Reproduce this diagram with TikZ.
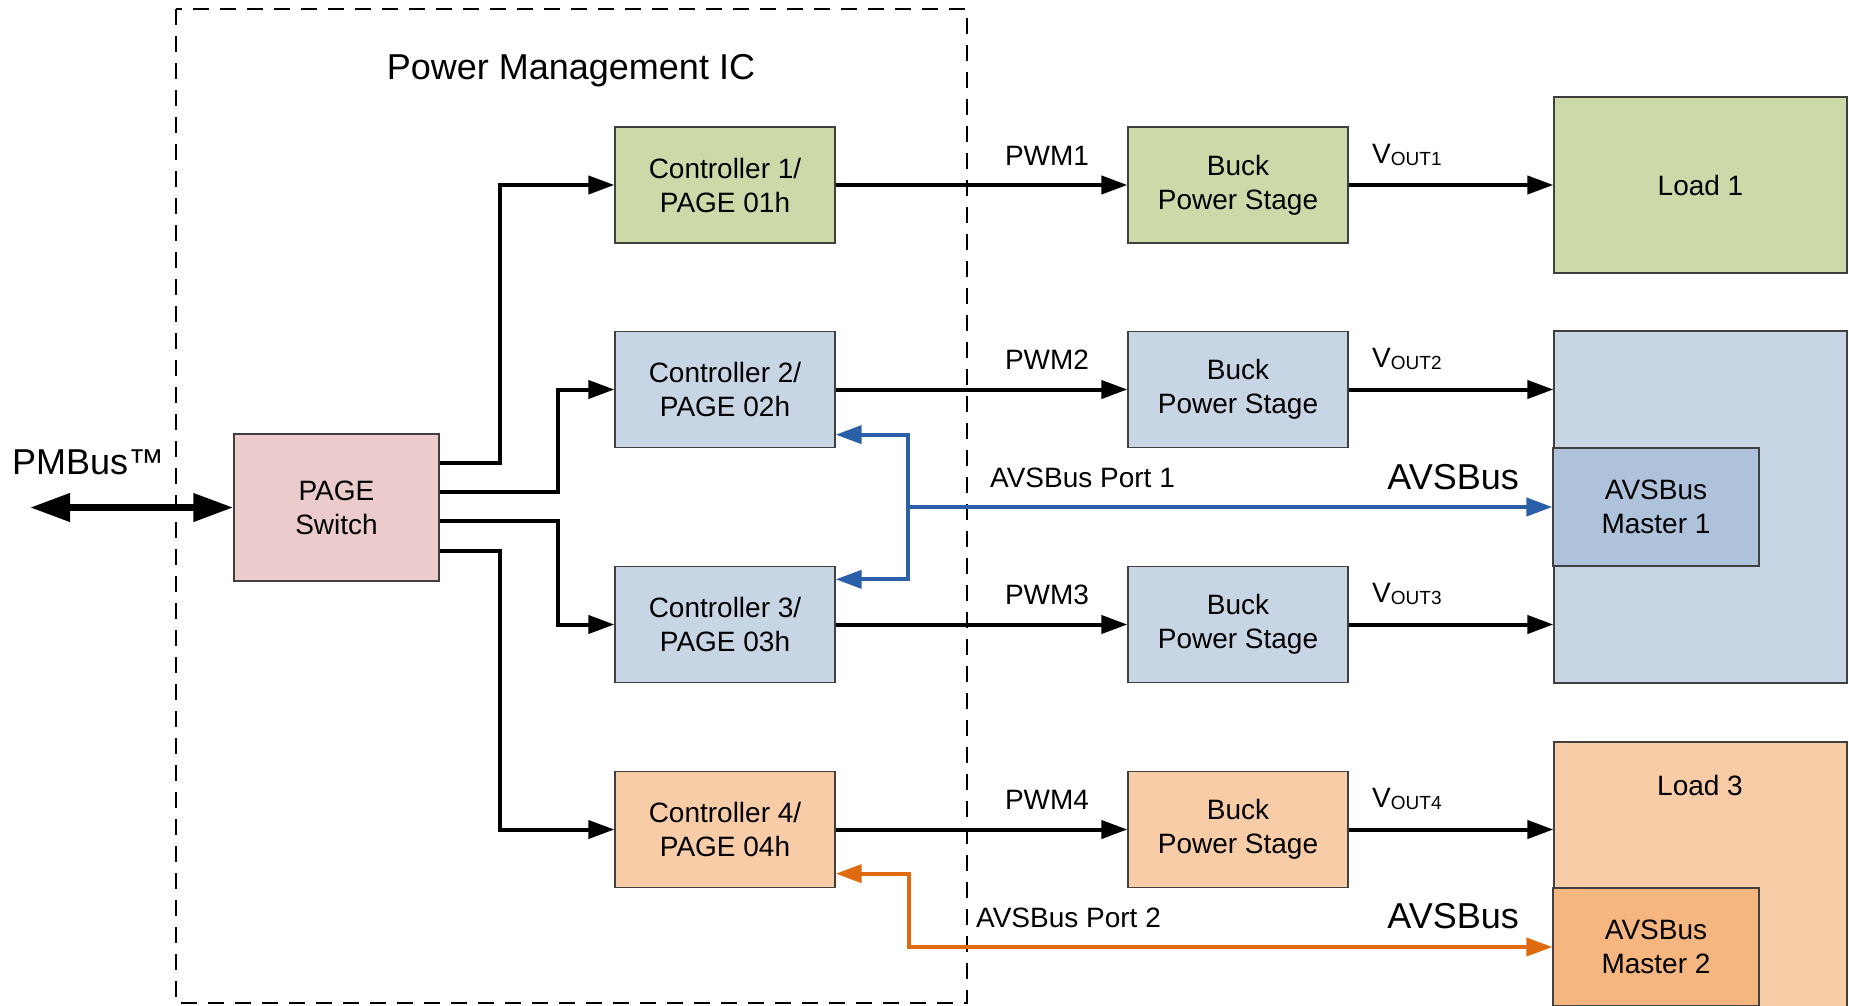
\documentclass[tikz,border=0pt]{standalone}
\usepackage{fontspec}
\setmainfont{Liberation Sans}
\usetikzlibrary{arrows.meta}

\definecolor{boxline}{HTML}{404040}
\definecolor{greenfill}{HTML}{CCDAAA}
\definecolor{bluefill}{HTML}{C8D5E5}
\definecolor{bluedark}{HTML}{AFC2DB}
\definecolor{pinkfill}{HTML}{EBCBCB}
\definecolor{orangefill}{HTML}{F9CCA8}
\definecolor{orangedark}{HTML}{F5B680}
\definecolor{avsblue}{HTML}{2B60A9}
\definecolor{avsorange}{HTML}{E06A10}

\tikzset{
  box/.style={draw=boxline, line width=1.3pt, align=center, inner sep=0pt,
    font=\fontsize{28}{34}\selectfont},
  ctl/.style={box, minimum width=220pt, minimum height=116pt},
  wire/.style={line width=4pt, ->},
  bus/.style={line width=4pt},
  lbl/.style={font=\fontsize{28}{34}\selectfont, inner sep=0pt},
  biglbl/.style={font=\fontsize{36}{40}\selectfont, inner sep=0pt},
  >={Triangle[length=26pt,width=18pt]},
}

% output-voltage label with a lowered, smaller subscript
\newcommand{\vout}[1]{V\raisebox{-2pt}{\fontsize{19}{19}\selectfont OUT#1}}

\begin{document}
\begin{tikzpicture}[x=1pt,y=-1pt]
\useasboundingbox (0,0) rectangle (1849,1005);
\clip (0,0) rectangle (1849,1005);

% IC boundary
\draw[line width=2pt, dash pattern=on 16pt off 11pt] (176,9) rectangle (967,1003);
\node[biglbl, anchor=base] (title) at (571,79) {Power Management IC};

% page switch and host bus
\node[box, fill=pinkfill, minimum width=205pt, minimum height=147pt] (sw) at (336.5,507.5) {PAGE\\Switch};
\coordinate (host) at (30,507.5);
\draw[line width=7pt, {Triangle[length=40pt,width=27pt]}-{Triangle[length=40pt,width=27pt]}] (host) -- (sw.west);
\node[biglbl, anchor=base west] (pmb) at (12,474) {PMBus™};

% controllers
\node[ctl, fill=greenfill]  (c1) at (725,185)   {Controller 1/\\PAGE 01h};
\node[ctl, fill=bluefill]   (c2) at (725,389.5) {Controller 2/\\PAGE 02h};
\node[ctl, fill=bluefill]   (c3) at (725,624.5) {Controller 3/\\PAGE 03h};
\node[ctl, fill=orangefill] (c4) at (725,829.5) {Controller 4/\\PAGE 04h};

% power stages
\node[ctl, fill=greenfill]  (b1) at (1238,185)   {Buck\\Power Stage};
\node[ctl, fill=bluefill]   (b2) at (1238,389.5) {Buck\\Power Stage};
\node[ctl, fill=bluefill]   (b3) at (1238,624.5) {Buck\\Power Stage};
\node[ctl, fill=orangefill] (b4) at (1238,829.5) {Buck\\Power Stage};

% loads
\node[box, fill=greenfill, minimum width=293pt, minimum height=176pt] (load1) at (1700.5,185) {Load 1};
\node[box, fill=bluefill, minimum width=293pt, minimum height=352pt] (load2) at (1700.5,507) {};
\node[box, fill=bluedark, minimum width=206pt, minimum height=118pt] (m1) at (1656,507) {AVSBus\\Master 1};
\node[box, fill=orangefill, minimum width=293pt, minimum height=272pt] (load3) at (1700.5,878) {};
\node[lbl, anchor=base] (l3txt) at (1700,795) {Load 3};
\node[box, fill=orangedark, minimum width=206pt, minimum height=118pt] (m2) at (1656,947) {AVSBus\\Master 2};

% switch to controllers
\draw[wire] ([yshift=44.5pt]sw.east) -- ++(60,0) |- (c1.west);
\draw[wire] ([yshift=15.5pt]sw.east) -- ++(118,0) |- (c2.west);
\draw[wire] ([yshift=-13.5pt]sw.east) -- ++(118,0) |- (c3.west);
\draw[wire] ([yshift=-43.5pt]sw.east) -- ++(60,0) |- (c4.west);

% PWM and output rails
\draw[wire] (c1.east) -- (b1.west);
\draw[wire] (c2.east) -- (b2.west);
\draw[wire] (c3.east) -- (b3.west);
\draw[wire] (c4.east) -- (b4.west);
\node[lbl, anchor=base] (pwm1) at (1047,165)   {PWM1};
\node[lbl, anchor=base] (pwm2) at (1047,369.5) {PWM2};
\node[lbl, anchor=base] (pwm3) at (1047,604.5) {PWM3};
\node[lbl, anchor=base] (pwm4) at (1047,809.5) {PWM4};

\draw[wire] (b1.east) -- (load1.west);
\draw[wire] (b2.east) -- (b2.east -| load2.west);
\draw[wire] (b3.east) -- (b3.east -| load2.west);
\draw[wire] (b4.east) -- (b4.east -| load3.west);
\node[lbl, anchor=base west] (v1) at (1372,163)   {\vout{1}};
\node[lbl, anchor=base west] (v2) at (1372,367.5) {\vout{2}};
\node[lbl, anchor=base west] (v3) at (1372,602.5) {\vout{3}};
\node[lbl, anchor=base west] (v4) at (1372,807.5) {\vout{4}};

% AVSBus port 1
\coordinate (j1) at (908,507);
\draw[bus, avsblue, ->] (j1) -- (m1.west);
\draw[bus, avsblue, <-] ([yshift=13.5pt]c2.south east) -| (j1);
\draw[bus, avsblue, <-] ([yshift=-13.5pt]c3.north east) -| (j1);
\node[lbl, anchor=base west] (port1) at (990,487) {AVSBus Port 1};
\node[biglbl, anchor=base east] (avs1) at (1519,489) {AVSBus};

% AVSBus port 2
\draw[bus, avsorange, <->] ([yshift=14.5pt]c4.south east) -- ++(73,0) |- (m2.west);
\node[lbl, anchor=base west] (port2) at (976,927) {AVSBus Port 2};
\node[biglbl, anchor=base east] (avs2) at (1519,928) {AVSBus};
\end{tikzpicture}
\end{document}
